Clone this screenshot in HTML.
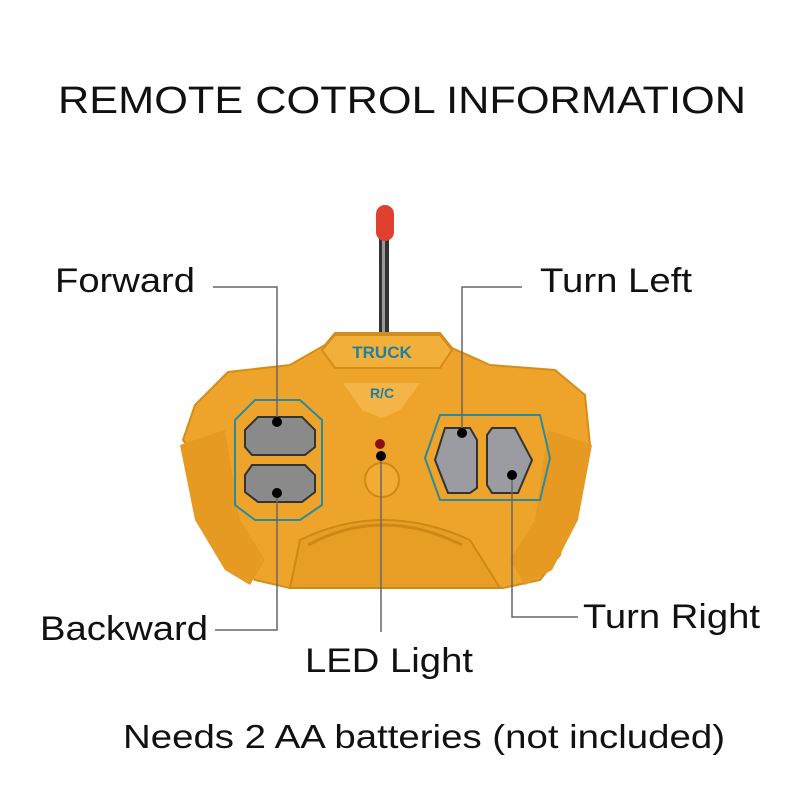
<!DOCTYPE html>
<html><head><style>
body{margin:0;background:#fff;}
svg{display:block;}
text{font-family:"Liberation Sans",sans-serif;fill:#111;}
</style></head><body>
<svg width="800" height="800" viewBox="0 0 800 800">
<text x="402" y="113" font-size="38" text-anchor="middle" textLength="688" lengthAdjust="spacingAndGlyphs">REMOTE COTROL INFORMATION</text>
<rect x="379" y="235" width="10" height="100" fill="#333"/>
<rect x="382" y="235" width="3" height="100" fill="#999"/>
<rect x="376" y="205" width="18" height="36" rx="9" fill="#e04030"/>
<path d="M183,440 L195,405 L228,372 L290,365 L325,345 L335,333 L440,333 L452,348 L490,365 L555,370 L585,395 L590,445 L575,475 L560,555 L540,580 L503,588 L290,588 L255,580 L235,555 L215,480 Z" fill="#eea42a" stroke="#d58d1a" stroke-width="2"/>
<path d="M180,445 L225,430 L240,520 L265,560 L250,585 L225,570 L195,520 Z" fill="#e69a22"/>
<path d="M592,445 L548,430 L535,520 L510,560 L525,585 L552,570 L578,520 Z" fill="#e69a22"/>
<path d="M290,588 L300,540 Q382,500 470,540 L500,588 Z" fill="#e89d25" stroke="#d08815" stroke-width="2"/>
<path d="M308,545 Q382,505 462,545" fill="none" stroke="#d08815" stroke-width="3"/>
<path d="M322,350 L335,335 L440,335 L452,350 L440,368 L335,368 Z" fill="#f2b03a" stroke="#d58d1a" stroke-width="2"/>
<text x="382" y="358" font-size="17" font-weight="bold" text-anchor="middle" style="fill:#1f7fa0">TRUCK</text>
<path d="M343,383 L420,383 L400,410 L382,418 L362,410 Z" fill="#f4b448"/>
<text x="382" y="398" font-size="14" font-weight="bold" text-anchor="middle" style="fill:#1f7fa0">R/C</text>
<path d="M235,420 L255,400 L300,400 L322,420 L322,505 L300,520 L255,520 L235,505 Z" fill="none" stroke="#2a8aa0" stroke-width="2"/>
<path d="M245,430 L258,417 L302,417 L315,430 L315,447 L305,455 L252,455 L245,447 Z" fill="#8a8a8a" stroke="#333" stroke-width="2"/>
<path d="M245,475 L252,465 L305,465 L315,475 L315,492 L302,502 L258,502 L245,492 Z" fill="#8a8a8a" stroke="#333" stroke-width="2"/>
<path d="M425,458 L440,415 L540,415 L550,458 L540,500 L440,500 Z" fill="none" stroke="#2a8aa0" stroke-width="2"/>
<path d="M445,428 L470,428 L477,440 L477,488 L470,493 L448,493 L435,460 Z" fill="#9a9ca2" stroke="#333" stroke-width="2"/>
<path d="M492,428 L515,428 L532,460 L518,493 L492,493 L487,485 L487,435 Z" fill="#9a9ca2" stroke="#333" stroke-width="2"/>
<circle cx="380" cy="444" r="5" fill="#8a1010"/>
<circle cx="382" cy="480" r="17" fill="#f2ac36" stroke="#d08815" stroke-width="2"/>
<g stroke="#666" stroke-width="1.5" fill="none">
<polyline points="213,287 277,287 277,422"/>
<polyline points="215,630 277,630 277,493"/>
<line x1="381" y1="456" x2="381" y2="632"/>
<polyline points="522,287 462,287 462,433"/>
<polyline points="578,617 512,617 512,475"/>
</g>
<g fill="#000">
<circle cx="277" cy="422" r="5"/><circle cx="277" cy="493" r="5"/>
<circle cx="381" cy="456" r="5"/><circle cx="462" cy="433" r="5"/><circle cx="512" cy="475" r="5"/>
</g>
<text x="55" y="292" font-size="34" textLength="140" lengthAdjust="spacingAndGlyphs">Forward</text>
<text x="540" y="292" font-size="34" textLength="152" lengthAdjust="spacingAndGlyphs">Turn Left</text>
<text x="40" y="640" font-size="34" textLength="168" lengthAdjust="spacingAndGlyphs">Backward</text>
<text x="583" y="628" font-size="34" textLength="177" lengthAdjust="spacingAndGlyphs">Turn Right</text>
<text x="305" y="672" font-size="34" textLength="168" lengthAdjust="spacingAndGlyphs">LED Light</text>
<text x="123" y="748" font-size="33" textLength="602" lengthAdjust="spacingAndGlyphs">Needs 2 AA batteries (not included)</text>
</svg>
</body></html>
